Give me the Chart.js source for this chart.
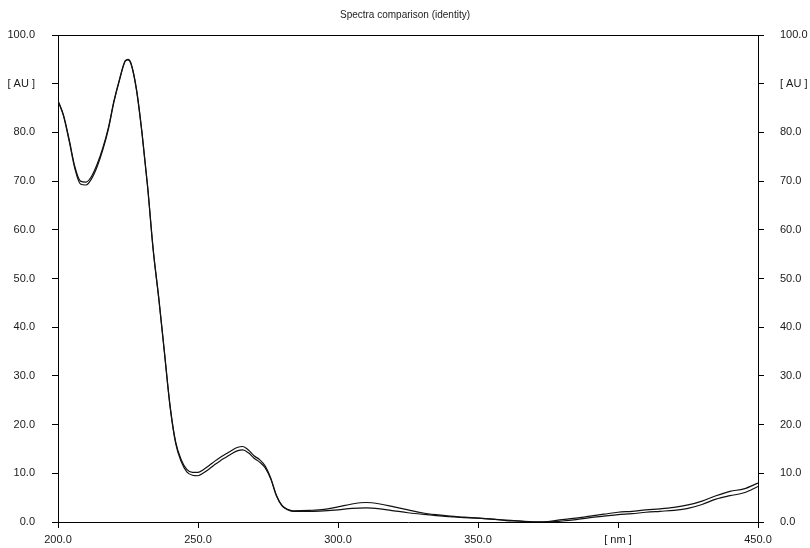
<!DOCTYPE html>
<html>
<head>
<meta charset="utf-8">
<title>Spectra comparison (identity)</title>
<script src="https://cdn.jsdelivr.net/npm/chart.js@4.4.1/dist/chart.umd.min.js"></script>
<style>
    html, body { margin: 0; padding: 0; background: #fff; }
    #box { width: 810px; height: 548px; }
</style>
</head>
<body>
<div id="box"><canvas id="spectraChart"></canvas></div>
<script>
// Dados (comprimento de onda em nm, absorbância em AU)
const wavelengths = [200, 202, 204, 206, 208, 210, 212, 214, 216, 218, 220, 222, 224, 225, 226, 228, 230, 232, 234, 236, 238, 240, 242, 244, 246, 248, 250, 252, 254, 256, 258, 260, 262, 264, 266, 268, 270, 272, 274, 276, 278, 280, 282, 284, 290, 295, 300, 305, 310, 315, 320, 325, 330, 335, 340, 345, 350, 355, 360, 365, 370, 375, 380, 385, 390, 395, 400, 405, 410, 415, 420, 425, 430, 435, 440, 445, 450];
const spectrumA = [86.5, 83.5, 78.5, 73.0, 70.0, 69.8, 71.0, 73.5, 76.8, 81.0, 86.5, 91.0, 94.7, 95.0, 94.3, 89.0, 80.0, 69.0, 56.0, 46.0, 35.0, 24.0, 16.5, 12.8, 10.8, 10.2, 10.2, 10.8, 11.6, 12.5, 13.3, 14.0, 14.7, 15.3, 15.5, 14.8, 13.6, 12.8, 11.5, 9.0, 5.5, 3.4, 2.6, 2.3, 2.4, 2.6, 3.1, 3.7, 4.0, 3.7, 3.1, 2.5, 1.9, 1.5, 1.2, 1.0, 0.8, 0.6, 0.4, 0.2, 0.05, 0.1, 0.5, 0.8, 1.2, 1.6, 2.0, 2.2, 2.5, 2.7, 3.0, 3.5, 4.3, 5.4, 6.3, 6.8, 8.0];
const spectrumB = [86.5, 83.3, 78.2, 72.6, 69.4, 69.2, 70.5, 73.0, 76.4, 80.7, 86.3, 90.8, 94.6, 94.9, 94.2, 88.8, 79.8, 68.8, 55.8, 45.8, 34.8, 23.8, 16.2, 12.4, 10.3, 9.6, 9.5, 10.1, 10.9, 11.8, 12.6, 13.3, 14.0, 14.6, 14.8, 14.2, 13.1, 12.3, 11.1, 8.8, 5.4, 3.3, 2.5, 2.2, 2.2, 2.3, 2.5, 2.8, 2.9, 2.7, 2.3, 1.9, 1.6, 1.3, 1.1, 0.9, 0.8, 0.6, 0.3, 0.2, 0.0, 0.0, 0.2, 0.5, 0.9, 1.2, 1.5, 1.7, 2.0, 2.2, 2.4, 2.8, 3.6, 4.7, 5.4, 6.0, 7.3];

// Rótulos especiais dos eixos
const xTickLabels = { 400: '[ nm ]' };
const yTickLabels = { 90: '[ AU ]' };

const fontBase = { family: 'Arial, "Liberation Sans", sans-serif', size: 11 };

function toPoints(xs, ys) {
    return xs.map((x, i) => ({ x: x, y: ys[i] }));
}

// Linha superior do quadro
const framePlugin = {
    id: 'frameTop',
    afterDraw(chart) {
        const { ctx, chartArea } = chart;
        ctx.save();
        ctx.strokeStyle = '#000';
        ctx.lineWidth = 1;
        ctx.beginPath();
        ctx.moveTo(chartArea.left, chartArea.top + 0.5);
        ctx.lineTo(chartArea.right, chartArea.top + 0.5);
        ctx.stroke();
        ctx.restore();
    }
};

function yAxis(position, width, padding) {
    return {
        type: 'linear',
        position: position,
        min: 0,
        max: 100,
        afterFit: function(scale) { scale.width = width; },
        border: { display: true, color: '#000', width: 1 },
        grid: { drawOnChartArea: false, drawTicks: true, tickLength: 6, color: '#000' },
        ticks: {
            stepSize: 10,
            padding: padding,
            color: '#1a1a1a',
            font: fontBase,
            callback: function(value) {
                return yTickLabels[value] || Number(value).toFixed(1);
            }
        }
    };
}

const ctx = document.getElementById('spectraChart');
new Chart(ctx, {
    type: 'line',
    data: {
        datasets: [{
            label: 'Spectrum A',
            data: toPoints(wavelengths, spectrumA),
            borderColor: '#111',
            borderWidth: 1.2,
            pointRadius: 0,
            cubicInterpolationMode: 'monotone',
            yAxisID: 'y'
        }, {
            label: 'Spectrum B',
            data: toPoints(wavelengths, spectrumB),
            borderColor: '#111',
            borderWidth: 1.2,
            pointRadius: 0,
            cubicInterpolationMode: 'monotone',
            yAxisID: 'y'
        }]
    },
    options: {
        responsive: true,
        maintainAspectRatio: false,
        animation: false,
        layout: { padding: 0 },
        plugins: {
            legend: { display: false },
            tooltip: { enabled: false },
            title: {
                display: true,
                text: 'Spectra comparison (identity)',
                color: '#222',
                font: { family: fontBase.family, size: 10, weight: 'normal', lineHeight: 1.2 },
                padding: { top: 9, bottom: 14 }
            }
        },
        scales: {
            x: {
                type: 'linear',
                min: 200,
                max: 450,
                afterFit: function(scale) { scale.height = 26; },
                border: { display: true, color: '#000', width: 1 },
                grid: { drawOnChartArea: false, drawTicks: true, tickLength: 6, color: '#000' },
                ticks: {
                    stepSize: 50,
                    padding: 5,
                    maxRotation: 0,
                    color: '#1a1a1a',
                    font: fontBase,
                    callback: function(value) {
                        return xTickLabels[value] || Number(value).toFixed(1);
                    }
                }
            },
            y: yAxis('left', 58, 17),
            y2: yAxis('right', 52, 16)
        }
    },
    plugins: [framePlugin]
});
</script>
</body>
</html>
